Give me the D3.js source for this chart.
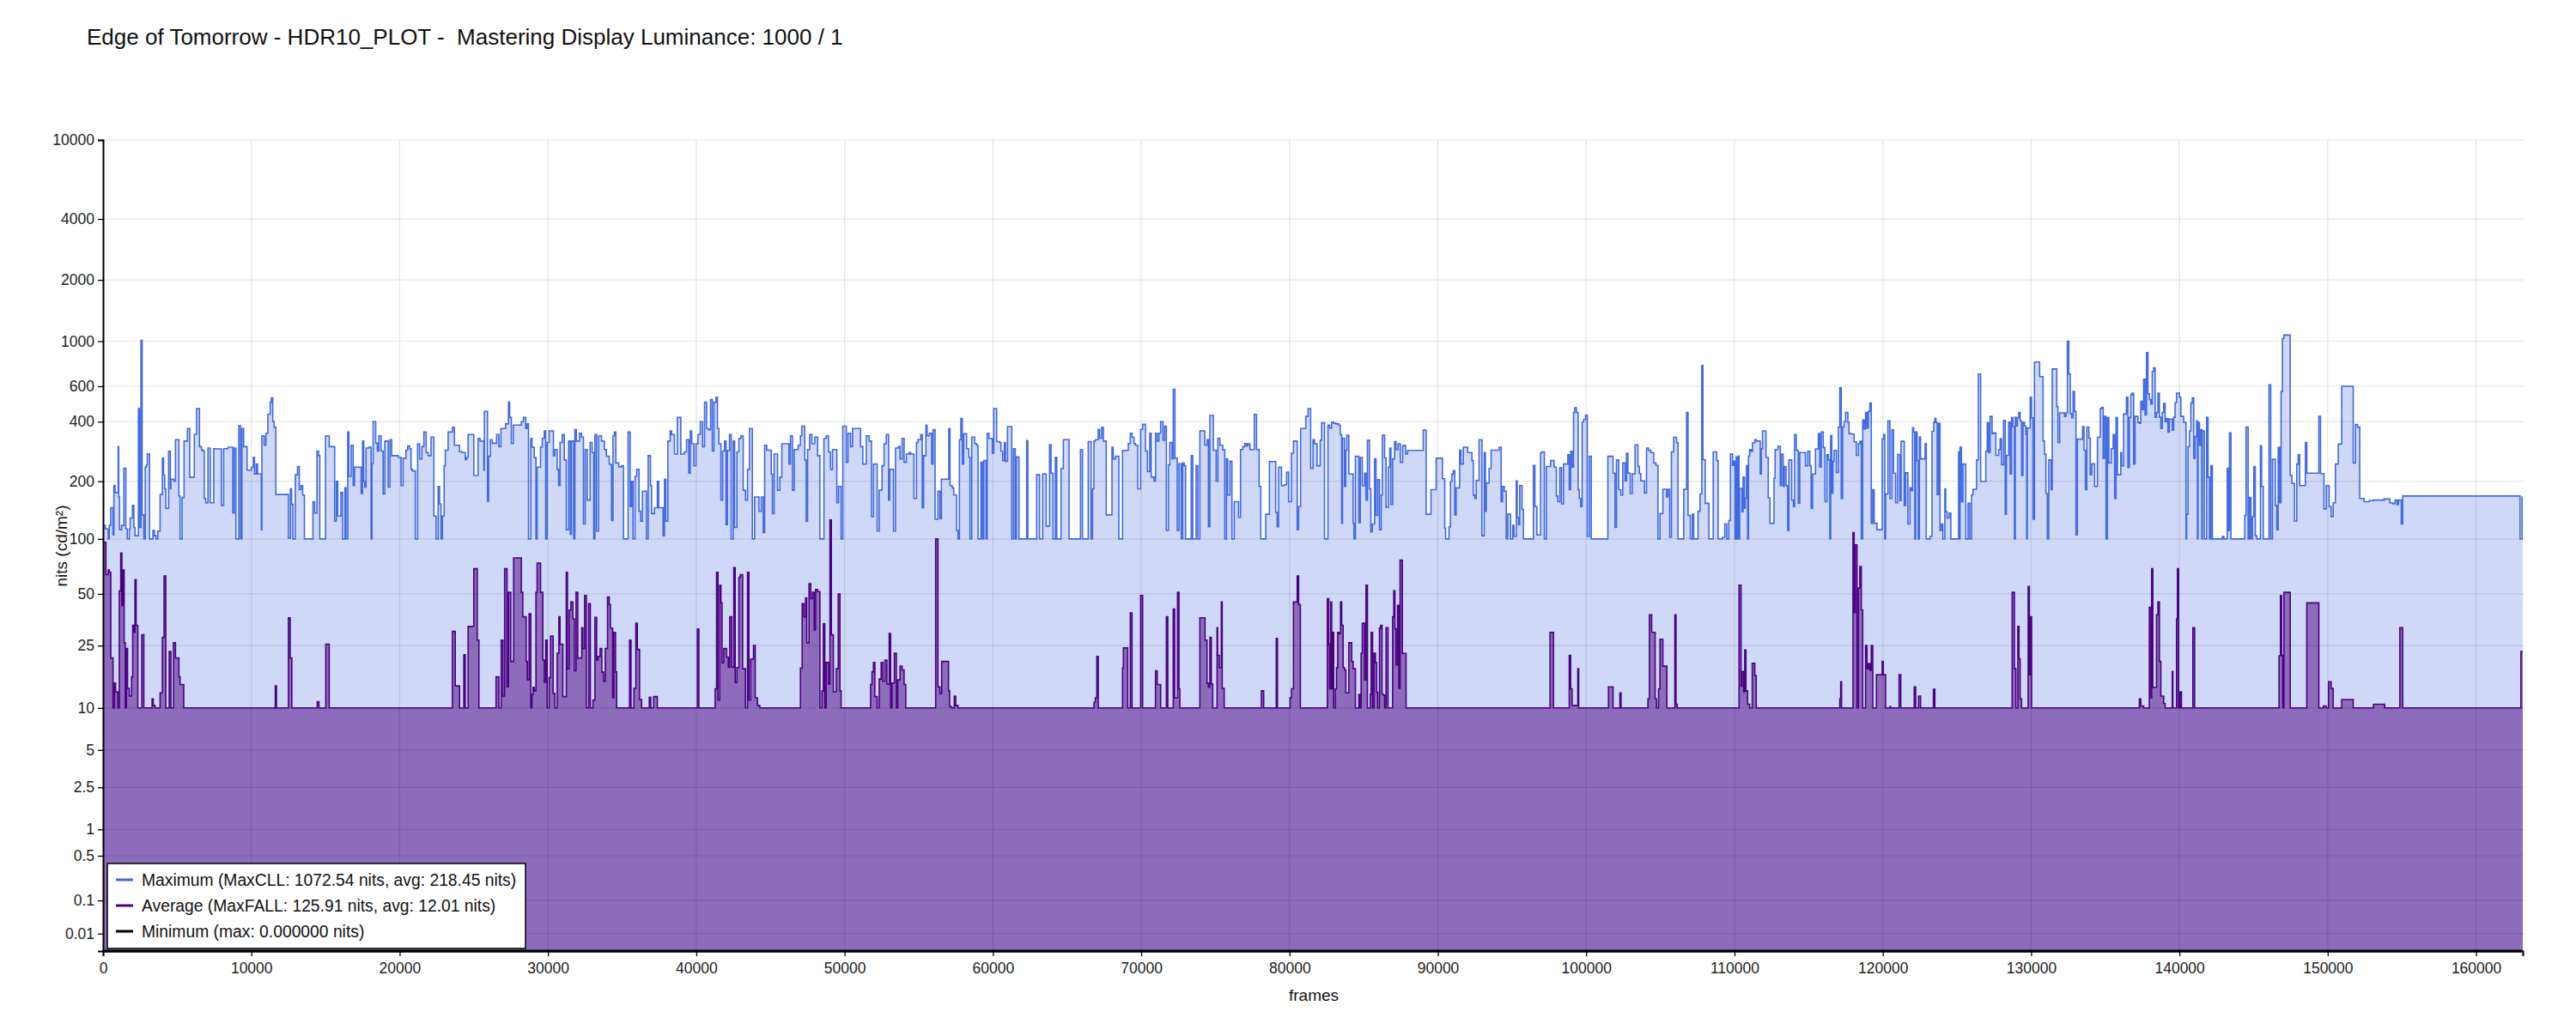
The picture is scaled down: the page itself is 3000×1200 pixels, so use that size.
<!DOCTYPE html>
<html>
<head>
<meta charset="utf-8">
<script src="https://cdn.jsdelivr.net/npm/d3@7"></script>
<style>
  body { margin: 0; background: #fff; }
  text { font-family: "Liberation Sans", Arial, sans-serif; fill: #111; }
</style>
</head>
<body>
<div id="main"></div>
<script>
var title = "Edge of Tomorrow - HDR10_PLOT -  Mastering Display Luminance: 1000 / 1";
var frameCount = 163150;

var xTicks = [0, 10000, 20000, 30000, 40000, 50000, 60000, 70000, 80000,
    90000, 100000, 110000, 120000, 130000, 140000, 150000, 160000];
var yTicks = [0.01, 0.1, 0.5, 1, 2.5, 5, 10, 25, 50, 100, 200, 400, 600, 1000, 2000, 4000, 10000];

var legendLabels = [
    "Maximum (MaxCLL: 1072.54 nits, avg: 218.45 nits)",
    "Average (MaxFALL: 125.91 nits, avg: 12.01 nits)",
    "Minimum (max: 0.000000 nits)"
];

// [frame where the step starts, nits]
var maxSteps = [
[0,118],[154,113],[346,100],[423,118],[519,146],[673,105],[731,190],[808,175],[1019,300],[1058,166],[1115,112],[1250,118],[1404,233],[1538,113],[1635,100],[1769,113],[1827,129],[1981,150],[2077,115],[2154,104],[2385,465],[2461,115],[2558,1010],[2635,134],[2750,100],[2846,236],[2923,242],[2981,276],[3134,100],[3365,111],[3461,104],[3577,100],[3692,110],[3846,171],[4000,262],[4077,215],[4154,183],[4231,145],[4423,284],[4538,183],[4577,205],[4769,200],[4884,325],[5115,168],[5192,100],[5327,165],[5461,320],[5692,370],[5846,210],[6154,346],[6307,465],[6500,300],[6634,290],[6692,286],[6827,163],[6923,155],[7077,295],[7230,155],[7461,293],[7596,292],[7980,150],[8134,293],[8423,298],[8750,137],[8846,295],[8961,100],[9153,382],[9269,100],[9365,370],[9480,300],[9711,228],[10000,236],[10134,265],[10211,218],[10327,245],[10423,218],[10673,112],[10711,340],[10865,305],[10980,350],[11115,435],[11269,500],[11346,525],[11442,400],[11538,375],[11653,171],[12500,101],[12634,183],[12711,152],[12807,100],[12961,216],[13115,238],[13230,181],[13346,190],[13461,170],[13576,100],[14153,157],[14269,137],[14423,285],[14538,270],[14615,100],[15000,340],[15249,300],[15615,124],[15730,200],[15826,132],[16038,175],[16153,100],[16307,185],[16384,100],[16499,355],[16576,212],[16730,305],[16865,190],[16961,236],[17403,173],[17499,320],[17576,200],[17653,187],[17730,295],[17922,298],[18076,100],[18134,246],[18211,400],[18384,312],[18499,285],[18595,340],[18749,285],[18884,172],[18999,320],[19230,187],[19345,325],[19461,270],[19903,265],[20095,190],[20230,262],[20422,288],[20538,302],[20672,293],[20768,230],[20865,226],[21057,100],[21211,310],[21345,260],[21499,300],[21634,355],[21788,280],[21922,270],[22114,335],[22307,132],[22460,100],[22595,188],[22691,153],[22788,100],[22884,132],[22999,240],[23076,288],[23268,355],[23557,375],[23691,305],[24037,283],[24191,280],[24422,258],[24518,265],[24614,345],[24999,214],[25287,330],[25422,320],[25672,228],[25711,450],[25922,158],[25999,268],[26114,325],[26249,312],[26537,345],[26691,300],[26826,370],
[27144,390],[27337,500],[27414,420],[27530,311],[27665,385],[28205,400],[28341,420],[28495,370],[28592,390],[28688,100],[28842,330],[28920,298],[29074,264],[29190,100],[29267,236],[29499,298],[29614,330],[29750,360],[29846,100],[29943,315],[30078,360],[30367,270],[30464,290],[30618,230],[30715,190],[30811,315],[30965,345],[31100,257],[31236,112],[31390,320],[31506,106],[31583,320],[31737,100],[31814,365],[31911,320],[32123,350],[32259,335],[32394,120],[32509,290],[32649,160],[32842,315],[32978,280],[33088,100],[33166,345],[33280,110],[33416,340],[33610,320],[33800,290],[33938,268],[34131,244],[34285,125],[34382,340],[34478,355],[34575,248],[34768,237],[34960,240],[35096,100],[35404,355],[35540,148],[35636,200],[35733,100],[35868,212],[35983,230],[36138,140],[36254,124],[36370,178],[36640,100],[36755,270],[36910,190],[36987,136],[37180,146],[37373,200],[37470,146],[37760,104],[37856,205],[37952,124],[38087,320],[38240,360],[38338,345],[38530,275],[38724,420],[38956,275],[39206,282],[39342,325],[39496,220],[39593,360],[39690,310],[39844,240],[39979,310],[40114,345],[40268,400],[40422,300],[40557,500],[40693,370],[40808,365],[40963,515],[41079,285],[41194,500],[41330,530],[41426,370],[41523,310],[41658,160],[41773,285],[41908,320],[42005,119],[42102,287],[42237,345],[42352,100],[42488,320],[42584,115],[42738,282],[42874,330],[43008,340],[43163,180],[43317,160],[43453,230],[43588,370],[43781,100],[43935,166],[44225,140],[44379,166],[44514,108],[44610,305],[44746,288],[45054,218],[45132,136],[45247,275],[45479,180],[45633,210],[45768,310],[46251,245],[46348,340],[46483,180],[46598,290],[46869,305],[47023,340],[47120,380],[47312,257],[47409,124],[47506,290],[47641,345],[47795,310],[47988,335],[48181,270],[48335,100],[48606,330],[48760,340],[48914,282],[49050,230],[49185,290],[49474,155],[49590,188],[49764,100],[49879,380],[50111,250],[50227,350],[50400,300],[50536,370],[51076,300],[51230,245],[51462,340],[51655,320],[51810,131],[51946,245],[52195,110],[52330,180],[52524,240],[52659,310],[52813,345],[52967,160],[53044,230],[53296,110],[53431,295],[53624,300],[53739,260],[53875,330],[54010,250],[54164,275],
[54364,280],[54461,275],[54673,163],[54847,315],[54943,325],[55136,345],[55233,146],[55329,270],[55483,385],[55561,340],[55715,350],[55869,245],[55966,365],[56101,127],[56294,178],[56429,128],[56526,205],[57027,370],[57105,190],[57259,185],[57356,170],[57549,111],[57645,100],[57742,325],[57838,415],[57935,245],[58031,348],[58224,293],[58378,265],[58456,100],[58571,335],[58764,311],[58900,305],[58996,100],[59189,250],[59286,100],[59382,255],[59536,100],[59614,350],[59729,330],[59961,278],[60057,465],[60250,318],[60443,315],[60540,285],[60656,255],[60772,314],[60849,253],[60984,378],[61273,100],[61389,293],[61505,100],[61582,266],[61756,100],[62277,322],[62354,100],[62952,216],[63145,100],[63357,218],[63589,117],[63821,307],[63917,220],[64053,100],[64207,265],[64303,100],[64593,232],[64747,325],[64921,325],[65133,100],[65905,290],[66040,100],[66426,318],[66619,100],[66716,183],[66812,319],[66909,325],[67102,366],[67198,331],[67334,375],[67449,320],[67642,134],[68028,298],[68106,260],[68260,268],[68492,100],[68742,286],[68839,287],[69129,311],[69264,350],[69379,334],[69514,311],[69611,305],[69765,183],[69958,366],[70094,388],[70286,285],[70422,224],[70576,350],[70673,210],[70866,200],[70962,350],[71078,320],[71194,350],[71309,400],[71464,323],[71580,380],[71695,111],[71831,242],[71927,315],[72081,260],[72159,580],[72274,262],[72429,111],[72545,246],[72699,100],[72796,248],[72892,240],[72989,100],[73375,270],[73471,100],[73703,240],[73818,100],[73954,360],[74282,305],[74436,325],[74533,116],[74629,430],[74861,288],[75054,200],[75169,331],[75305,305],[75498,289],[75633,100],[75748,260],[75826,170],[75980,253],[76115,100],[76270,157],[76559,130],[76694,290],[76849,300],[76984,311],[77099,303],[77196,310],[77331,290],[77621,435],[77775,290],[77949,188],[78064,100],[78393,135],[78643,252],[79068,138],[79165,116],[79261,236],[79454,190],[79647,192],[79801,223],[79937,157],[80130,278],[80265,320],[80516,112],[80612,148],[80747,370],[81095,425],[81249,465],[81423,233],
[81585,325],[81682,310],[81855,240],[82068,323],[82164,395],[82357,100],[82589,385],[82704,372],[82840,398],[82975,393],[83129,390],[83322,384],[83419,345],[83515,121],[83573,331],[83708,188],[83785,288],[83862,342],[83998,218],[84287,121],[84345,100],[84441,268],[84673,122],[84770,264],[84905,190],[85059,220],[85156,160],[85252,323],[85387,183],[85484,109],[85580,120],[85735,260],[85831,133],[85947,204],[86063,112],[86178,170],[86256,342],[86410,263],[86507,147],[86661,236],[86757,295],[86835,152],[86950,260],[87086,318],[87182,290],[87317,310],[87472,250],[87626,303],[87722,305],[87819,276],[87954,287],[89016,363],[89209,135],[89537,181],[89884,262],[90309,206],[90463,114],[90521,100],[90753,116],[90849,200],[90946,218],[91042,227],[91139,134],[91235,185],[91467,288],[91563,245],[91718,298],[92007,280],[92297,255],[92393,170],[92490,163],[92586,202],[92779,325],[92972,104],[93126,280],[93204,140],[93262,196],[93455,232],[93590,288],[94130,298],[94265,157],[94362,188],[94477,178],[94613,100],[94709,135],[94902,100],[95056,118],[95134,103],[95288,201],[95346,130],[95442,119],[95519,190],[95674,143],[95771,100],[96446,241],[96543,148],[96678,105],[96929,280],[97025,282],[97179,100],[97315,238],[97605,255],[97836,236],[97990,168],[98087,157],[98222,235],[98337,153],[98473,245],[98762,273],[98859,181],[98955,284],[99052,236],[99148,445],[99225,470],[99341,445],[99457,181],[99534,163],[99631,148],[99727,398],[99824,410],[99959,432],[100075,103],[100210,268],[100345,100],[101464,268],[101811,220],[101947,115],[102043,257],[102197,181],[102333,170],[102468,248],[102622,201],[102719,278],[102815,220],[102969,173],[103105,218],[103298,306],[103491,238],[103587,219],[103684,201],[103934,174],[104070,295],[104205,287],[104359,280],[104552,248],[104706,241],[104842,100],[104977,136],[105170,182],[105421,166],[105517,182],[105633,102],[105749,282],[105903,334],[106096,314],[106193,100],[106579,182],[106772,445],[106868,133],[107022,100],[107158,135],[107254,100],[107544,140],[107679,172],[107795,760],[107872,258],[108026,154],[108277,100],[108566,282],
[108803,255],[108900,100],[109189,102],[109343,120],[109479,100],[109614,125],[109729,276],[109865,241],[109961,253],[110038,100],[110115,266],[110193,100],[110251,269],[110308,100],[110347,184],[110501,139],[110579,210],[110675,145],[110733,164],[110810,240],[110887,100],[110945,269],[111023,290],[111119,284],[111216,314],[111370,325],[111467,320],[111737,218],[111814,293],[111891,360],[112123,265],[112277,164],[112393,121],[112663,207],[112740,290],[112933,301],[113088,190],[113165,275],[113281,188],[113358,238],[113474,190],[113589,111],[113667,257],[113860,160],[113975,148],[114053,345],[114168,287],[114304,154],[114400,280],[114786,240],[114940,284],[115076,240],[115172,145],[115269,218],[115462,292],[115655,348],[115751,236],[115848,355],[115983,297],[116098,157],[116234,273],[116330,257],[116427,100],[116485,341],[116562,174],[116639,253],[116716,287],[116870,222],[117006,376],[117102,590],[117199,163],[117295,376],[117392,400],[117488,445],[117642,397],[117720,349],[117874,347],[118067,317],[118221,271],[118357,311],[118453,319],[118550,100],[118646,408],[118743,368],[118839,445],[118936,372],[119032,450],[119129,495],[119223,121],[119322,181],[119418,121],[119611,112],[119959,327],[120055,345],[120132,100],[120190,172],[120344,404],[120480,163],[120615,364],[120730,220],[120866,155],[121001,274],[121155,159],[121232,319],[121445,150],[121541,221],[121695,120],[121831,185],[121927,179],[122004,373],[122081,355],[122159,100],[122217,355],[122313,255],[122390,100],[122467,336],[122545,260],[122853,311],[122931,100],[123182,103],[123317,358],[123432,397],[123510,415],[123587,397],[123664,171],[123761,392],[123857,111],[123954,120],[124050,100],[124185,183],[124243,139],[124340,129],[124475,137],[124590,100],[125112,282],[125169,100],[125208,298],[125305,157],[125401,245],[125594,100],[125748,154],[125864,100],[125980,170],[126077,182],[126327,257],[126443,690],[126598,200],[126945,284],[127042,395],[127138,280],[127235,425],[127370,349],[127485,352],[127621,271],[127814,290],[127910,328],[128007,243],[128142,406],[128257,135],[128335,271],[128489,398],[128586,218],[128682,419],[128779,378],[128875,100],[128933,421],[128972,381],[129068,419],[129165,445],[129261,404],[129358,214],[129454,397],[129551,381],[129647,345],[129705,100],[129744,372],[129937,530],[130033,418],[130130,127],[130226,790],[130573,670],[130805,320],[130902,275],[130998,173],[131095,100],[131191,257],[131345,181],[131423,730],[131731,475],[131809,314],[131924,443],[132253,425],[132349,443],[132446,1000],[132542,690],[132639,440],[132735,419],[132832,565],[132928,450],[133025,105],[133121,327],[133468,378],[133565,288],[133661,181],[133758,376],[133893,331],[133990,216],[134086,246],[134279,188],[134472,334],[134665,465],[134762,472],[134858,262],[134955,425],[135051,100],[135148,419],[135244,248],[135398,293],[135534,345],[135630,163],[135727,419],[135823,216],
[136044,280],[136102,240],[136237,437],[136430,530],[136527,235],[136623,420],[136720,545],[136816,555],[136913,245],[137009,425],[137202,397],[137299,393],[137395,505],[137492,460],[137588,650],[137685,432],[137781,880],[137878,550],[137974,515],[138071,490],[138167,710],[138264,740],[138360,421],[138457,445],[138553,555],[138650,421],[138746,370],[138843,445],[138939,493],[139036,400],[139132,415],[139229,355],[139325,412],[139518,363],[139615,421],[139711,498],[139808,555],[140001,530],[140097,425],[140290,397],[140444,100],[140483,135],[140580,300],[140676,360],[140773,495],[140869,525],[140966,262],[141062,337],[141159,404],[141216,100],[141255,397],[141352,305],[141448,365],[141506,100],[141545,360],[141680,100],[141834,420],[141931,210],[142027,100],[142124,240],[142220,100],[142896,103],[142992,100],[143224,233],[143282,111],[143378,352],[143475,100],[144401,133],[144497,376],[144633,100],[144729,165],[144826,100],[144922,131],[145019,238],[145115,104],[145212,100],[145462,303],[145540,188],[145655,100],[146041,610],[146157,100],[146273,259],[146466,150],[146563,112],[146659,297],[146756,155],[146852,565],[146949,1030],[147045,1072],[147470,214],[147585,195],[147759,124],[147914,245],[148010,273],[148107,190],[148493,315],[148589,220],[149400,425],[149515,219],[149747,144],[149901,190],[150094,148],[150230,131],[150365,155],[150519,245],[150712,309],[150944,600],[151716,248],[151870,387],[152005,376],[152160,163],[152449,157],[152796,159],[153067,160],[153800,162],[154186,155],[154379,153],[154533,160],[154669,152],[154765,160],[154958,120],[155055,168],[162968,100],[163103,166]
];

var avgSteps = [
[0,96],[192,64],[346,68],[423,66],[519,21],[673,10],[769,14.6],[846,12.8],[1000,10],[1096,52],[1192,84],[1269,43],[1346,68],[1423,26],[1500,10],[1577,24],[1654,13.5],[1769,12],[1923,16],[2000,33],[2077,30],[2154,60],[2231,33],[2346,10],[2615,29],[2750,10],[3308,11.5],[3384,10.4],[3500,10],[3846,12.6],[4000,28],[4115,63],[4231,10],[4461,23],[4577,10],[4750,26],[4884,21],[5115,16],[5192,14.3],[5442,10],[11615,14],[11692,10],[12500,36.5],[12615,21],[12730,10],[14442,11],[14557,10],[15019,25.5],[15249,10],[23557,30.4],[23749,14],[24037,10],[24326,22],[24422,10],[24614,32.5],[24999,69],[25230,27],[25345,10],[26499,16],[26691,10],[26845,27],[26960,12],[27076,69],
[27240,13.8],[27337,51],[27491,20],[27684,79],[28205,51],[28302,37],[28534,20],[28611,15.3],[28727,38.5],[28842,10],[28920,12.3],[28997,13.7],[29074,13],[29190,51],[29267,74],[29499,51],[29653,20.4],[29750,14.8],[29846,27],[29943,10],[30078,15.8],[30174,28.5],[30348,12.5],[30464,10],[30618,22.5],[30734,37],[30811,25.5],[31004,11.9],[31236,66],[31313,18],[31429,40.5],[31544,45],[31680,36],[31776,17.5],[31892,51],[32008,21],[32278,32],[32355,24],[32471,49],[32587,10],[32741,44],[32857,10],[33031,11.3],[33166,36.7],[33281,20.4],[33378,21.5],[33513,24],[33629,17.2],[33745,15],[33860,24],[34015,48],[34131,43.5],[34208,31.8],[34362,11.7],[34439,30],[34555,17.2],[34632,10],[35501,27],[35597,10],[35790,13.5],[35925,34],[36022,23.7],[36176,11.4],[36312,10],[36833,11.8],[36929,10],[37122,11.9],[37373,10],[40075,31.4],[40172,10],[41272,13.4],[41368,66],[41465,11.3],[41580,56],[41658,44.5],[41735,19.6],[41851,24],[42044,21.3],[42159,18.4],[42256,37],[42391,18.4],[42527,70],[42623,14.7],[42738,18.3],[42874,62],[42970,64],[43124,18],[43317,10],[43453,66],[43549,11.3],[43665,20.7],[43858,25],[43974,11.7],[44128,10.4],[44282,10],[47023,18.2],[47139,44],[47255,37],[47370,47.5],[47448,26],[47602,57],[47718,47],[47834,51],[47949,31],[48046,53],[48181,51.5],[48335,10],[48471,13],[48567,33.8],[48664,10],[48760,19.7],[48914,14.4],[49011,125.91],[49107,29],[49243,12.8],[49436,18],[49571,50],[49686,13],[49764,10],[51752,14.3],[51848,17.2],[51945,19.7],[52041,11.9],[52195,10],[52331,15.5],[52466,19.7],[52581,15],[52717,20.4],[52852,14.4],[53006,29.5],[53103,10],[53199,14.6],[53353,22.5],[53489,10],[53585,15.3],[53739,18.7],[53875,17.7],[54010,14.3],[54125,10],
[56140,100],[56294,13.8],[56429,12.5],[56545,20],[57008,13],[57085,10.2],[57220,10],[57394,12],[57491,10.4],[57645,10],[66813,10.9],[66909,11.7],[67006,21.5],[67102,10],[68742,18.2],[68800,24.2],[69090,10],[69264,39],[69379,10],[69958,49],[70094,10],[70961,17.5],[71078,14.3],[71309,10],[71695,37],[71792,10],[72159,41],[72255,11.7],[72448,51],[72545,13.4],[72603,10],[73954,36.5],[74301,27],[74436,14.6],[74533,13.7],[74629,28],[74726,14.4],[74822,10],[75112,32],[75150,21.8],[75266,18.3],[75401,45],[75459,13.5],[75594,10],[78103,13],[78257,10],[79107,27.6],[79184,10],[80033,11.7],[80130,13.4],[80265,45],[80516,63],[80612,43.5],[80728,10],
[82550,47],[82647,25.5],[82704,13.4],[82782,45],[82840,13.4],[82897,30],[82975,10],[83090,13.4],[83168,18.3],[83245,30],[83322,29.5],[83438,45],[83515,33],[83612,18.3],[83708,17.7],[83795,12.6],[83998,26],[84191,20],[84287,18],[84441,10],[84673,12.3],[84731,10],[84827,22.5],[84905,34],[85059,15.3],[85156,56],[85252,10],[85445,12.3],[85503,30],[85599,10],[85696,22.5],[85792,19.7],[85870,12.7],[85947,10],[86063,31.8],[86140,33],[86236,12.4],[86314,12.2],[86410,10],[86507,32],[86642,10],[86950,37],[87028,52],[87105,31.5],[87182,19],[87279,43],[87375,13.5],[87452,77],[87607,22.4],[87858,10],[97565,30],[97797,10],[98859,21.8],[98955,13.4],[99052,10.4],[99437,18],[99495,10],[101503,13.8],[101811,10],[102275,12.6],[102352,10],[104166,11.5],[104263,38],[104417,30],[104649,11.5],[104745,10],[104880,13.4],[104977,27.3],[105170,18.7],[105440,10],[105980,38],[106057,10.6],[106135,10],
[110308,56],[110444,13.9],[110501,17.3],[110617,12.8],[110694,23.5],[110772,13],[110887,10.6],[111023,10],[111196,19.5],[111370,16.3],[111467,10],[117102,11.5],[117160,14.9],[117218,10],[117990,108],[118067,39],[118144,93],[118260,10],[118357,54],[118453,71],[118550,40.5],[118646,10],[118839,25],[118936,18],[119032,19.4],[119129,17.6],[119223,25],[119322,10],[119572,16.5],[119959,20],[120036,16.5],[120190,10],[120480,10.2],[120537,10],[121097,16.5],[121213,10],[122120,13.8],[122217,10],[122410,12],[122545,10],[123413,13.3],[123510,10],[128721,51],[128875,18],[128972,10],[129106,32.5],[129184,20.7],[129261,11.5],[129358,10],[129802,55],[129879,16.5],[129937,37],[130033,10],
[137299,11.5],[137395,10.3],[137588,10],[137974,42],[138032,11.7],[138128,69],[138206,13.7],[138457,38],[138553,45],[138650,20],[138746,12],[138939,10.7],[139036,10],[139518,17.3],[139557,10],[139808,36],[139865,69],[139943,10],[140039,12.8],[140136,10],[140908,32],[141023,10],[146717,21.7],[146813,49],[146891,21.8],[146968,10],[147045,51],[147470,10],[148589,44.5],[149400,10],[149708,10.3],[149901,10],[150056,14.9],[150230,13.5],[150365,10],[150944,11.4],[151716,10],[153086,10.6],[153839,10],[154862,32],[155055,10],[163025,23]
];

var minSteps = [[0, 0]];

// SMPTE ST 2084 (PQ) inverse EOTF, nits -> 0..1
function pq(nits) {
    var m1 = 0.1593017578125, m2 = 78.84375,
        c1 = 0.8359375, c2 = 18.8515625, c3 = 18.6875;
    var p = Math.pow(Math.max(nits, 0) / 10000, m1);
    return Math.pow((c1 + c2 * p) / (1 + c3 * p), m2);
}

// extend the last step to the final frame
function closeSteps(steps) {
    return steps.concat([[frameCount, steps[steps.length - 1][1]]]);
}

var margin = {top: 163, right: 62, bottom: 92, left: 120},
    width = 3000 - margin.left - margin.right,
    height = 1200 - margin.top - margin.bottom;

var svgRoot = d3.select('#main')
    .append('svg')
    .attr("width", 3000)
    .attr("height", 1200);

svgRoot.append("text")
    .attr("x", 101)
    .attr("y", 52)
    .style("font-size", "26px")
    .style("white-space", "pre")
    .text(title);

var svg = svgRoot.append("g")
    .attr("transform", "translate(" + margin.left + "," + margin.top + ")");

var x = d3.scaleLinear().domain([0, frameCount]).range([0, width]);
var yPq = d3.scaleLinear().domain([0, 1]).range([height, 0]);
function y(nits) { return yPq(pq(nits)); }

var area = d3.area()
    .curve(d3.curveStepAfter)
    .x(function(d) { return x(d[0]); })
    .y0(height)
    .y1(function(d) { return y(d[1]); });

var line = d3.line()
    .curve(d3.curveStepAfter)
    .x(function(d) { return x(d[0]); })
    .y(function(d) { return y(d[1]); });

// fills
svg.append("path")
    .attr("d", area(closeSteps(maxSteps)))
    .style("fill", "royalblue")
    .style("fill-opacity", 0.25);

svg.append("path")
    .attr("d", area(closeSteps(avgSteps)))
    .style("fill", "indigo")
    .style("fill-opacity", 0.5);

// grid
svg.append("g")
    .selectAll("line.h")
    .data(yTicks)
    .enter()
    .append("line")
    .attr("x1", 0)
    .attr("x2", width + 2)
    .attr("y1", function(d) { return y(d); })
    .attr("y2", function(d) { return y(d); })
    .style("stroke", "rgba(0,0,0,0.1)")
    .style("stroke-width", 1.2);

svg.append("g")
    .selectAll("line.v")
    .data(xTicks)
    .enter()
    .append("line")
    .attr("x1", function(d) { return x(d); })
    .attr("x2", function(d) { return x(d); })
    .attr("y1", 0)
    .attr("y2", height)
    .style("stroke", "rgba(0,0,0,0.1)")
    .style("stroke-width", 1.2);

// lines
svg.append("path")
    .attr("d", line(closeSteps(maxSteps)))
    .style("fill", "none")
    .style("stroke", "royalblue")
    .style("stroke-width", 1.6);

svg.append("path")
    .attr("d", line(closeSteps(avgSteps)))
    .style("fill", "none")
    .style("stroke", "indigo")
    .style("stroke-width", 1.6);

// axes
var xAxis = svg.append("g")
    .attr("transform", "translate(0," + height + ")")
    .call(d3.axisBottom(x)
        .tickValues(xTicks)
        .tickFormat(d3.format("d"))
        .tickSizeOuter(0)
        .tickSize(6)
        .tickPadding(8));

var yAxis = svg.append("g")
    .call(d3.axisLeft(yPq)
        .tickValues(yTicks.map(pq))
        .tickFormat(function(d, i) { return yTicks[i]; })
        .tickSizeOuter(0)
        .tickSize(6)
        .tickPadding(4));

[xAxis, yAxis].forEach(function(a) {
    a.selectAll("text")
        .style("font-size", "17.5px")
        .style("font-family", '"Liberation Sans", Arial, sans-serif')
        .style("fill", "#222");
    a.selectAll(".tick line").style("stroke", "#000").style("stroke-width", 1.3);
    a.select(".domain").style("stroke", "#000").style("stroke-width", 2);
});

svg.append("path")
    .attr("d", line(closeSteps(minSteps)))
    .style("fill", "none")
    .style("stroke", "#000")
    .style("stroke-width", 3);

// axis titles
svgRoot.append("text")
    .attr("transform", "translate(71,636) rotate(-90)")
    .attr("text-anchor", "middle")
    .attr("dy", "0.35em")
    .style("font-size", "19px")
    .text("nits (cd/m²)");

svgRoot.append("text")
    .attr("x", margin.left + width / 2 + 1)
    .attr("y", 1166)
    .attr("text-anchor", "middle")
    .style("font-size", "19px")
    .text("frames");

// legend
var legendColors = ["royalblue", "indigo", "#000"];
var legend = svgRoot.append("g").attr("transform", "translate(125,1006)");
legend.append("rect")
    .attr("width", 487)
    .attr("height", 99)
    .style("fill", "#fff")
    .style("stroke", "#000")
    .style("stroke-width", 1.5);

var item = legend.selectAll("g.item")
    .data(legendLabels)
    .enter()
    .append("g")
    .attr("transform", function(d, i) { return "translate(0," + (19 + i * 30) + ")"; });

item.append("line")
    .attr("x1", 10)
    .attr("x2", 30)
    .style("stroke", function(d, i) { return legendColors[i]; })
    .style("stroke-width", 3);

item.append("text")
    .attr("x", 40)
    .attr("dy", "0.35em")
    .style("font-size", "19.3px")
    .text(function(d) { return d; });
</script>
</body>
</html>
